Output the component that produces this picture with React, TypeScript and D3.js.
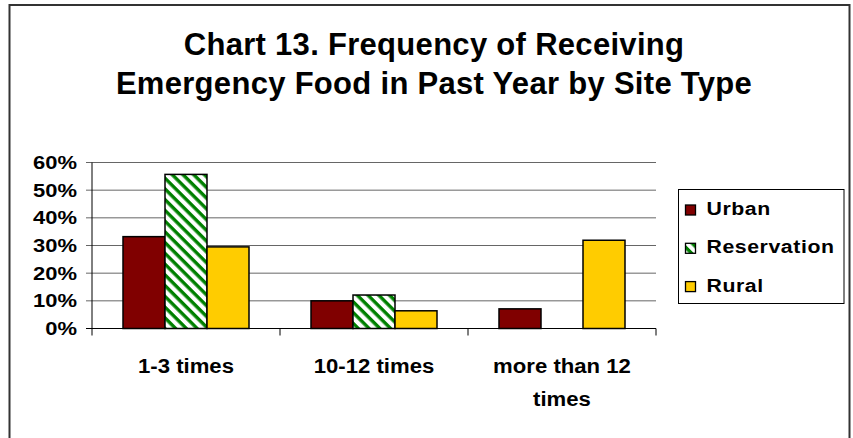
import React from "react";
import * as d3 from "d3";

const categories = ["1-3 times", "10-12 times", "more than 12 times"];
const categoryLines = [["1-3 times"], ["10-12 times"], ["more than 12", "times"]];
const seriesNames = ["Urban", "Reservation", "Rural"];
const urban = [33.2, 10.0, 7.1];
const reservation = [55.7, 12.1, 0];
const rural = [29.5, 6.4, 31.9];
const yTicks = [0, 10, 20, 30, 40, 50, 60];
const titleLines = ["Chart 13. Frequency of Receiving", "Emergency Food in Past Year by Site Type"];

const seriesValues = [urban, reservation, rural];
const fills = ["#800000", "url(#hatch)", "#FFCC00"];

export default function App() {
  const W = 853, H = 438;
  const left = 92, right = 656, top = 162.5, bottom = 328.5;
  const x = d3.scaleBand<string>().domain(categories).range([left, right]).paddingInner(0).paddingOuter(0);
  const xs = d3.scaleBand<string>().domain(seriesNames).range([0, x.bandwidth()]).paddingInner(0).paddingOuter(31 / 42);
  const y = d3.scaleLinear().domain([0, 60]).range([bottom, top]);
  const font = "'Liberation Sans', Arial, sans-serif";

  return (
    <svg width={W} height={H} style={{ position: "absolute", left: 0, top: 0 }} fontFamily={font}>
      <defs>
        <pattern id="hatch" patternUnits="userSpaceOnUse" width={7.6} height={7.6} patternTransform="rotate(45)">
          <rect width={7.6} height={7.6} fill="#fff" />
          <rect width={7.6} height={3.4} fill="#008000" />
        </pattern>
      </defs>
      <rect x={0} y={0} width={W} height={H} fill="#fff" />
      <rect x={9.5} y={5} width={840} height={445} fill="#fff" stroke="#333" strokeWidth={2} />
      {titleLines.map((t, i) => (
        <text key={i} x={434} y={55 + i * 39} textAnchor="middle" fontSize={31} fontWeight="bold" letterSpacing={0.3}>{t}</text>
      ))}
      {yTicks.map((t) => (
        <g key={t}>
          <line x1={left - 6} x2={right} y1={y(t)} y2={y(t)} stroke={t === 0 ? "#000" : "#666"} strokeWidth={1} />
          <text transform={`translate(77,${y(t) + 6.5}) scale(1.22,1)`} textAnchor="end" fontSize={18} fontWeight="bold">{t}%</text>
        </g>
      ))}
      <line x1={left} x2={left} y1={top} y2={bottom} stroke="#000" strokeWidth={1} />
      {[...categories.map((c) => x(c)!), right].map((px, i) => (
        <line key={i} x1={px} x2={px} y1={bottom} y2={bottom + 7} stroke="#000" strokeWidth={1} />
      ))}
      {categories.map((c, ci) =>
        seriesValues.map((vals, si) => {
          const v = vals[ci];
          if (!v) return null;
          const bx = x(c)! + xs(seriesNames[si])!;
          return (
            <rect key={c + si} x={bx} y={y(v)} width={xs.bandwidth()} height={bottom - y(v)} fill={fills[si]} stroke="#000" strokeWidth={1.5} />
          );
        })
      )}
      {categories.map((c, ci) => {
        const cx = x(c)! + x.bandwidth() / 2;
        return categoryLines[ci].map((l, li) => (
          <text key={c + li} transform={`translate(${cx},${373 + li * 32.5}) scale(1.08,1)`} textAnchor="middle" fontSize={20.5} fontWeight="bold">{l}</text>
        ));
      })}
      <rect x={678.5} y={189.5} width={165.5} height={114} fill="#fff" stroke="#000" strokeWidth={1} />
      {seriesNames.map((s, i) => {
        const base = 215 + i * 38.3;
        return (
          <g key={s}>
            <rect x={685.5} y={base - 10} width={10} height={10} fill={i === 1 ? "url(#hatch)" : fills[i]} stroke="#000" strokeWidth={1.3} />
            <text transform={`translate(706.5,${base}) scale(1.15,1)`} fontSize={18.5} fontWeight="bold" letterSpacing={0.5}>{s}</text>
          </g>
        );
      })}
    </svg>
  );
}
